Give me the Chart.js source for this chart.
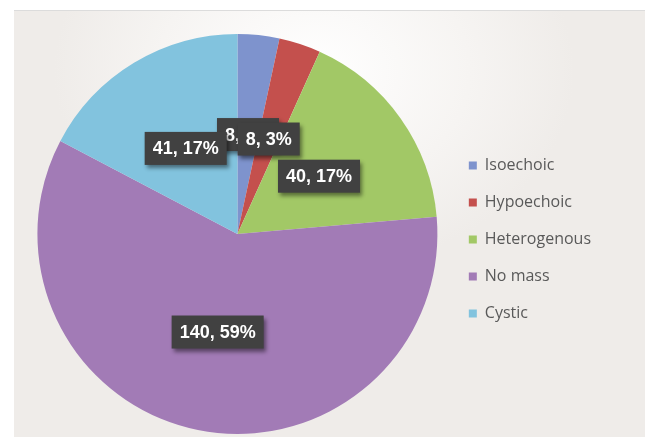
<!DOCTYPE html>
<html lang="en">
  <head>
    <meta charset="UTF-8" />
    <title>Echo pattern</title>
    <style>
      html, body {
        margin: 0;
        padding: 0;
        background: #ffffff;
        overflow: hidden;
      }
      .panel {
        position: absolute;
        left: 14px;
        top: 10px;
        width: 631px;
        height: 427px;
        border-top: 1px solid #dcdcdc;
        box-sizing: border-box;
        background: radial-gradient(ellipse 260px 200px at 300px 60px, #ffffff 0%, #f6f4f2 60%, #efece9 100%);
      }
      .wrap {
        position: absolute;
        left: 0;
        top: 0;
        width: 645px;
        height: 437px;
      }
    </style>
  </head>
  <body>
    <div class="panel"></div>
    <div class="wrap">
      <canvas id="myChart" width="645" height="437"></canvas>
    </div>

    <script src="https://cdn.jsdelivr.net/npm/chart.js@4.4.1/dist/chart.umd.min.js"></script>
    <script>
      var categories = ["Isoechoic", "Hypoechoic", "Heterogenous", "No mass", "Cystic"];
      var counts = [8, 8, 40, 140, 41];
      var colors = ["#7e93cd", "#c4504d", "#a2c866", "#a27bb6", "#82c3de"];

      // dark label boxes sitting in the middle of each slice
      var boxLabels = {
        id: "boxLabels",
        afterDatasetsDraw: function (chart) {
          var ctx = chart.ctx;
          var meta = chart.getDatasetMeta(0);
          var data = chart.data.datasets[0].data;
          var total = data.reduce(function (a, b) { return a + b; }, 0);
          ctx.save();
          ctx.font = "bold 18px 'Liberation Sans', Arial, sans-serif";
          ctx.textAlign = "center";
          ctx.textBaseline = "middle";
          meta.data.forEach(function (arc, i) {
            var pos = arc.getCenterPoint();
            var txt = data[i] + ", " + Math.round((data[i] / total) * 100) + "%";
            var w = ctx.measureText(txt).width + 16;
            var h = 33;
            ctx.shadowColor = "rgba(0,0,0,0.45)";
            ctx.shadowBlur = 4;
            ctx.shadowOffsetX = 2;
            ctx.shadowOffsetY = 3;
            ctx.fillStyle = "#414141";
            ctx.fillRect(pos.x - w / 2, pos.y - h / 2, w, h);
            ctx.shadowColor = "transparent";
            ctx.fillStyle = "#ffffff";
            ctx.fillText(txt, pos.x, pos.y + 1);
          });
          ctx.restore();
        },
      };

      new Chart(document.getElementById("myChart"), {
        type: "pie",
        data: {
          labels: categories,
          datasets: [
            {
              data: counts,
              backgroundColor: colors,
              borderWidth: 0,
            },
          ],
        },
        options: {
          responsive: false,
          animation: false,
          radius: 200,
          layout: {
            padding: { left: 27, right: 44, top: 31, bottom: 0 },
          },
          plugins: {
            tooltip: { enabled: false },
            legend: {
              position: "right",
              // empty title only nudges the entries down a little
              title: {
                display: true,
                text: "",
                font: { size: 1 },
                padding: { top: 10, bottom: 0 },
              },
              labels: {
                boxWidth: 8,
                boxHeight: 8,
                padding: 21,
                color: "#595959",
                font: { family: "'Open Sans', sans-serif", size: 16 },
              },
            },
          },
        },
        plugins: [boxLabels],
      });
    </script>
  </body>
</html>
